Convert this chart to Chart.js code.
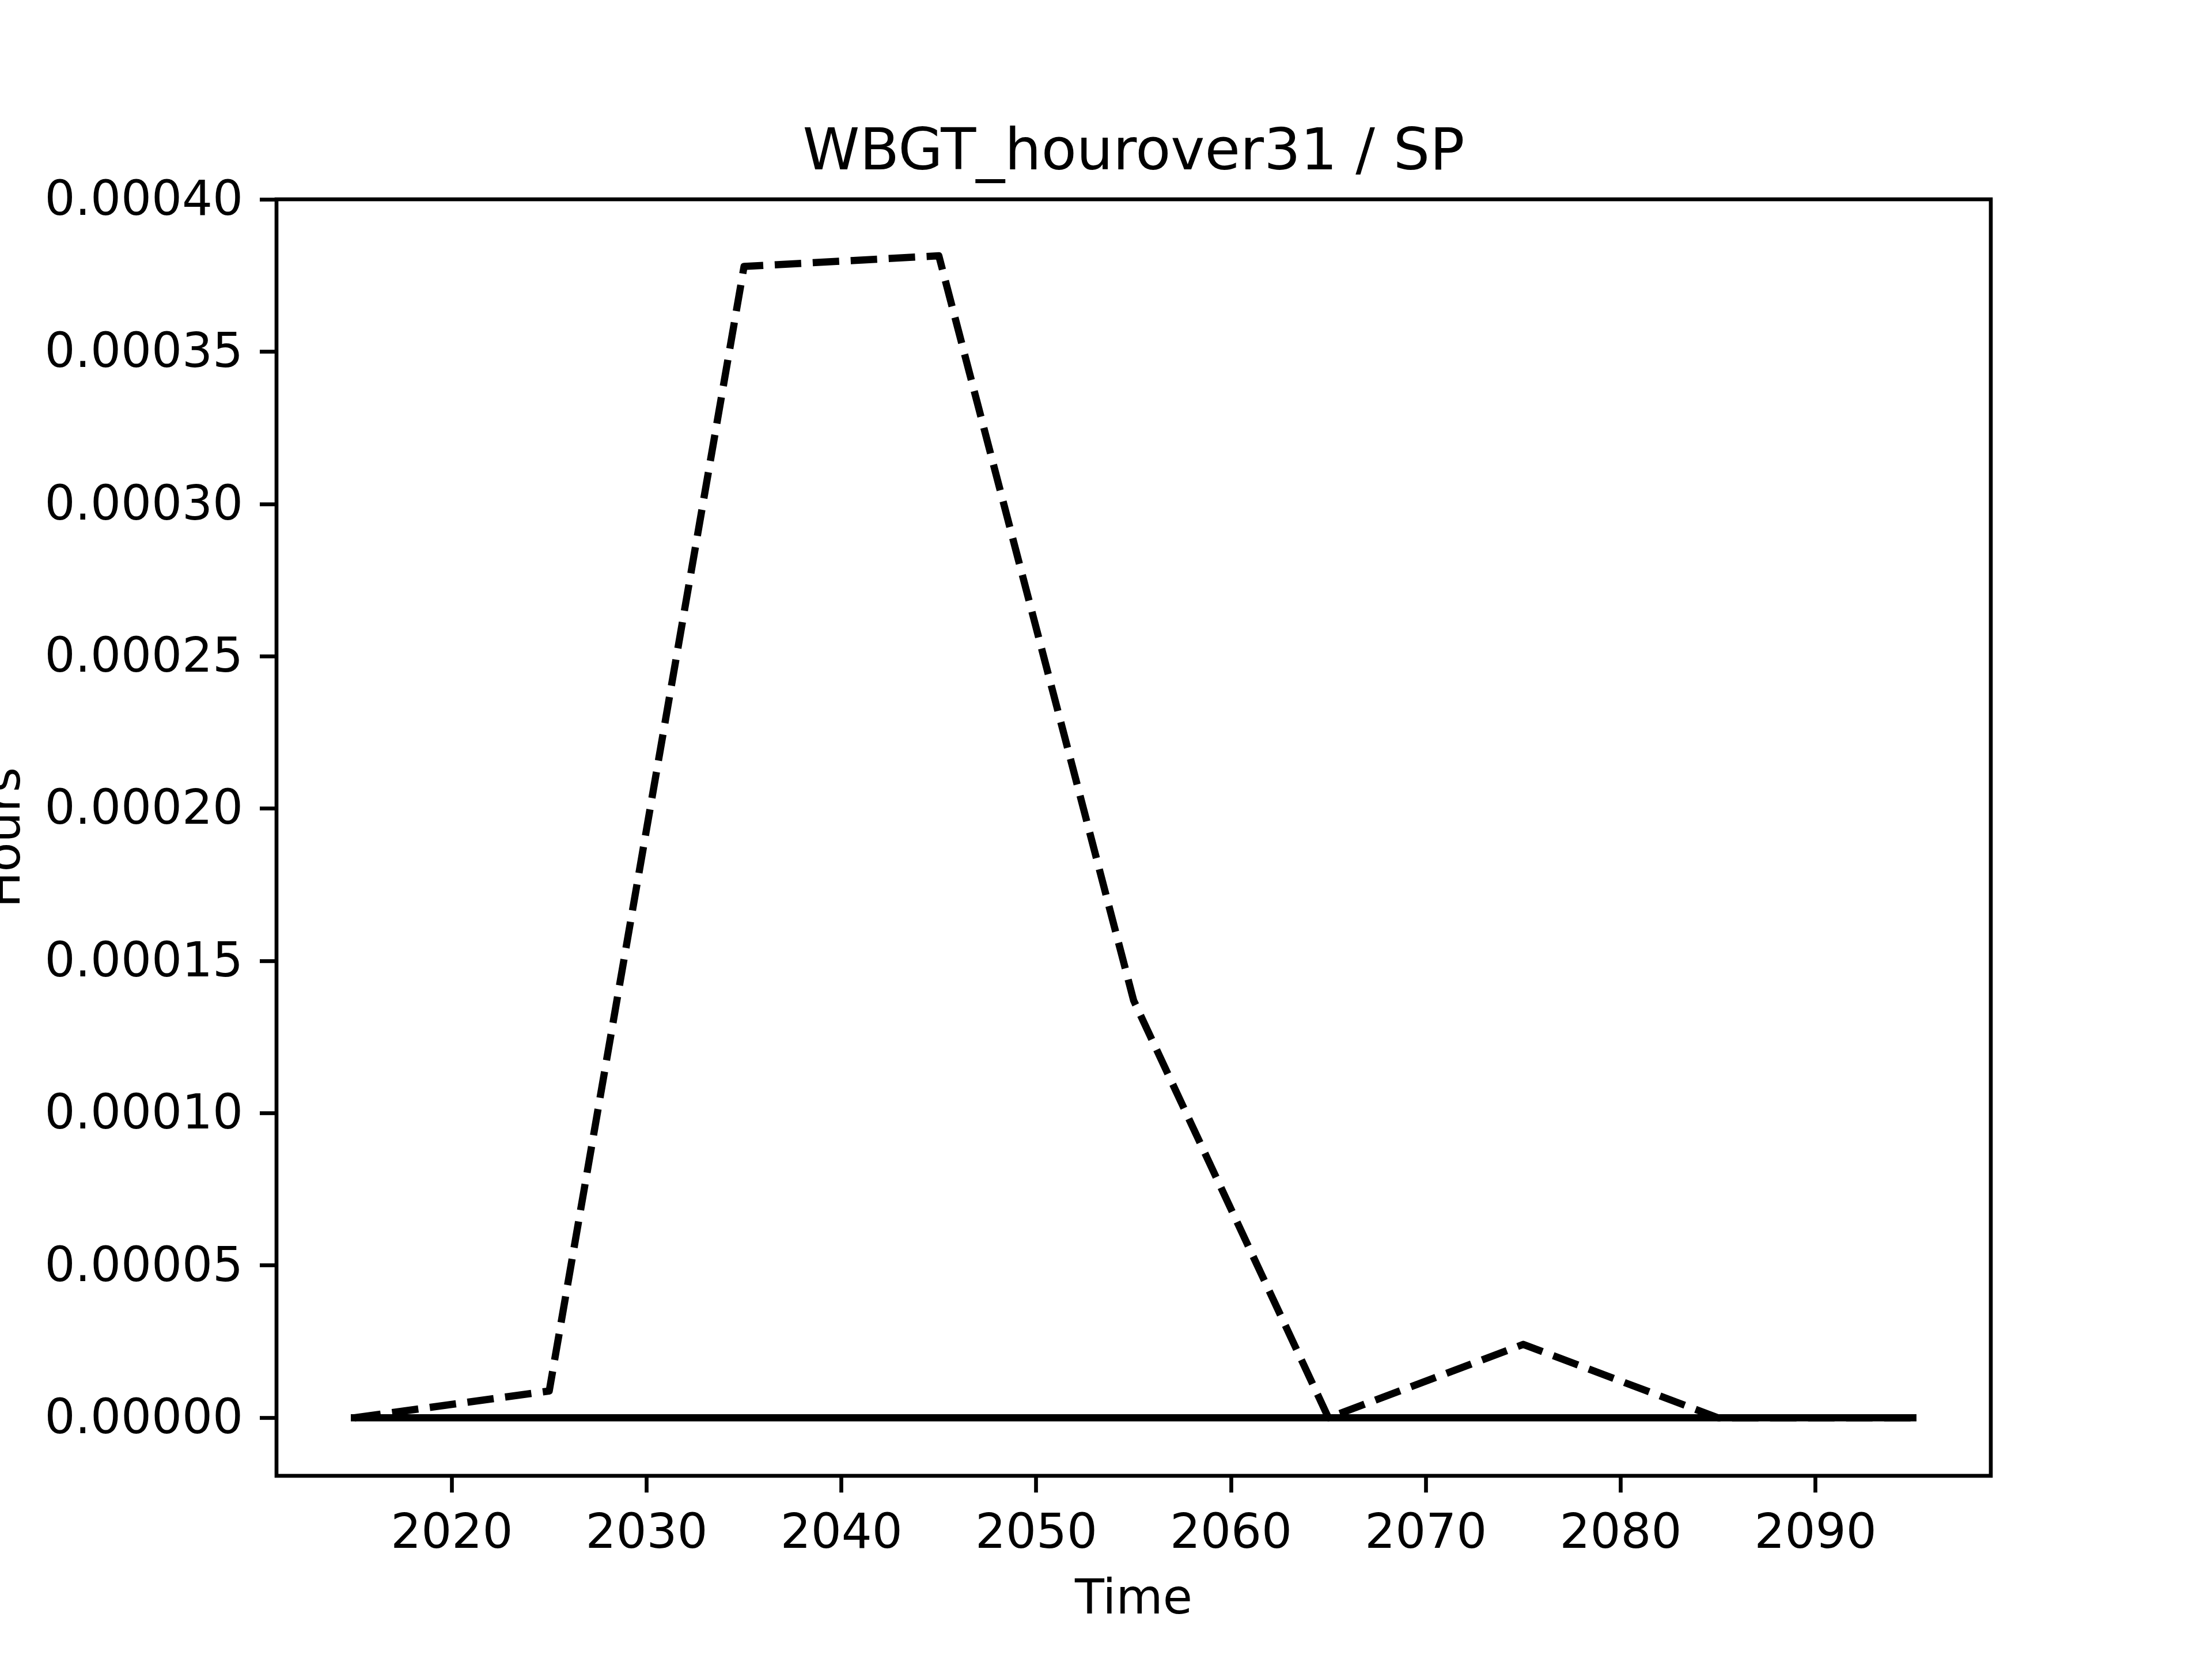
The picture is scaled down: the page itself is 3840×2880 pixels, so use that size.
<!DOCTYPE html>
<html><head><meta charset="utf-8">
<script src="https://cdn.jsdelivr.net/npm/chart.js@4"></script>
<style>html,body{margin:0;padding:0;background:#fff}</style>
</head><body>
<canvas id="c" width="3840" height="2880" style="width:3840px;height:2880px;display:block"></canvas>
<script>
const titleText = 'WBGT_hourover31 / SP';
const xLabel = 'Time';
const yLabel = 'Hours';
const years = [2015, 2025, 2035, 2045, 2055, 2065, 2075, 2085, 2095];
const dashedValues = [0, 0.0000088, 0.000378, 0.0003815, 0.000137, 0, 0.0000241, 0, 0];
const solidValues = [0, 0, 0, 0, 0, 0, 0, 0, 0];
const xTickValues = [2020, 2030, 2040, 2050, 2060, 2070, 2080, 2090];
const yTickValues = [0, 0.00005, 0.0001, 0.00015, 0.0002, 0.00025, 0.0003, 0.00035, 0.0004];
const yTickLabels = ['0.00000', '0.00005', '0.00010', '0.00015', '0.00020', '0.00025', '0.00030', '0.00035', '0.00040'];
const xRange = [2011, 2099];
const yRange = [-0.00001905, 0.00040005];

Chart.defaults.font.family = "'DejaVu Sans'";
Chart.defaults.color = '#000';

const frame = {
  id: 'frame',
  afterDatasetsDraw(chart) {
    const { ctx, chartArea: a } = chart;
    ctx.save();
    ctx.strokeStyle = '#000';
    ctx.lineWidth = 6.67;
    ctx.strokeRect(a.left, a.top, a.right - a.left, a.bottom - a.top);
    ctx.restore();
  }
};

const toPts = (vals) => years.map((y, i) => ({ x: y, y: vals[i] }));
const tickFont = { size: 83.33, lineHeight: 1.2 };

new Chart(document.getElementById('c'), {
  type: 'line',
  data: {
    datasets: [
      { data: toPts(solidValues), borderColor: '#000', borderWidth: 12.5, pointRadius: 0, borderCapStyle: 'square', borderJoinStyle: 'round', fill: false, tension: 0 },
      { data: toPts(dashedValues), borderColor: '#000', borderWidth: 12.5, borderDash: [46, 20], pointRadius: 0, borderCapStyle: 'butt', borderJoinStyle: 'round', fill: false, tension: 0 }
    ]
  },
  options: {
    responsive: false,
    animation: false,
    layout: { padding: { top: 0, left: 0, right: 384, bottom: 0 } },
    plugins: {
      legend: { display: false },
      tooltip: { enabled: false },
      title: {
        display: true, text: titleText, fullSize: false, color: '#000',
        font: { size: 100, weight: 'normal', lineHeight: 1.2 },
        padding: { top: 208, bottom: 18 }
      }
    },
    scales: {
      x: {
        type: 'linear', position: 'bottom', min: xRange[0], max: xRange[1],
        afterBuildTicks: (s) => { s.ticks = xTickValues.map(v => ({ value: v })); },
        afterFit: (s) => { s.height = 318; },
        ticks: { includeBounds: false, autoSkip: false, maxRotation: 0, padding: 24, color: '#000', font: tickFont, callback: (v) => String(v) },
        grid: { drawOnChartArea: false, drawTicks: true, tickLength: 29, tickWidth: 6.67, tickColor: '#000' },
        border: { display: false },
        title: { display: true, text: xLabel, color: '#000', font: tickFont, padding: { top: 0, bottom: 51 } }
      },
      y: {
        type: 'linear', position: 'left', min: yRange[0], max: yRange[1],
        afterBuildTicks: (s) => { s.ticks = yTickValues.map(v => ({ value: v })); },
        afterFit: (s) => { s.width = 480; },
        ticks: { includeBounds: false, autoSkip: false, padding: 29, labelOffset: 5, color: '#000', font: tickFont, callback: (v, i) => yTickLabels[i] },
        grid: { drawOnChartArea: false, drawTicks: true, tickLength: 29, tickWidth: 6.67, tickColor: '#000' },
        border: { display: false },
        title: { display: true, text: yLabel, color: '#000', font: tickFont, padding: { top: -38, bottom: 0 } }
      }
    }
  },
  plugins: [frame]
});
</script>
</body></html>
